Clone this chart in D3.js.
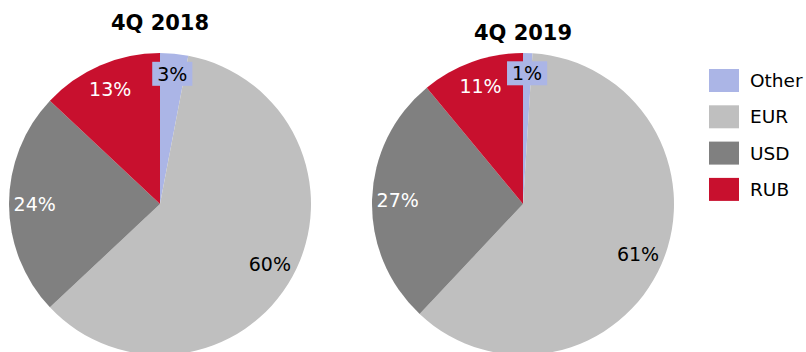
<!DOCTYPE html>
<html>
<head>
<meta charset="utf-8">
<script src="https://cdn.jsdelivr.net/npm/d3@7"></script>
<style>
  html, body { margin: 0; padding: 0; background: #fff; }
  svg { display: block; }
</style>
</head>
<body>
<svg id="chart" width="806" height="352"></svg>
<script>
// Currency mix by quarter (shares in %)
const categories = ["Other", "EUR", "USD", "RUB"];
const periods = ["4Q 2018", "4Q 2019"];
const values2018 = [3, 60, 24, 13];
const values2019 = [1, 61, 27, 11];
const colors = ["#abb5e6", "#bfbfbf", "#808080", "#c8102e"];
const labelColors = ["#000", "#000", "#fff", "#fff"];

const svg = d3.select("#chart");
const font = "'DejaVu Sans', Verdana, sans-serif";

const pies = [
  { title: periods[0], values: values2018, cx: 160, cy: 204, r: 151, titleY: 30 },
  { title: periods[1], values: values2019, cx: 523, cy: 204, r: 151, titleY: 40 }
];

const color = d3.scaleOrdinal().domain(categories).range(colors);
const textColor = d3.scaleOrdinal().domain(categories).range(labelColors);

const pieGen = d3.pie().sort(null).value(d => d.value);

pies.forEach(p => {
  const data = categories.map((c, i) => ({ cat: c, value: p.values[i] }));
  const arcs = pieGen(data);
  const arc = d3.arc().innerRadius(0).outerRadius(p.r);
  const g = svg.append("g").attr("transform", `translate(${p.cx},${p.cy})`);

  g.selectAll("path.slice")
    .data(arcs)
    .join("path")
    .attr("class", "slice")
    .attr("d", arc)
    .attr("fill", d => color(d.data.cat));

  // labels: thin slices get their label pushed outward, with a filled box
  const labels = g.selectAll("g.lbl")
    .data(arcs)
    .join("g")
    .attr("class", "lbl")
    .attr("transform", d => {
      const small = d.data.value < 5;
      const lr = small ? p.r * 0.865 : p.r * 0.83;
      const a = (d.startAngle + d.endAngle) / 2;
      return `translate(${Math.sin(a) * lr},${-Math.cos(a) * lr})`;
    });

  labels.each(function(d) {
    const sel = d3.select(this);
    const t = sel.append("text")
      .attr("text-anchor", "middle")
      .attr("dy", "0.36em")
      .attr("font-family", font)
      .attr("font-size", 19)
      .attr("fill", textColor(d.data.cat))
      .text(d.data.value + "%");
    if (d.data.value < 5) {
      const bb = t.node().getBBox();
      sel.insert("rect", "text")
        .attr("x", bb.x - 5)
        .attr("y", bb.y - 1)
        .attr("width", bb.width + 10)
        .attr("height", bb.height + 2)
        .attr("fill", color(d.data.cat));
    }
  });

  svg.append("text")
    .attr("x", p.cx)
    .attr("y", p.titleY)
    .attr("text-anchor", "middle")
    .attr("font-family", font)
    .attr("font-weight", "bold")
    .attr("font-size", 21)
    .attr("fill", "#000")
    .text(p.title);
});

// legend
const legend = svg.append("g").attr("transform", "translate(709,69)");
const item = legend.selectAll("g")
  .data(categories)
  .join("g")
  .attr("transform", (d, i) => `translate(0,${i * 36.3})`);
item.append("rect")
  .attr("width", 30)
  .attr("height", 23)
  .attr("fill", d => color(d));
item.append("text")
  .attr("x", 41)
  .attr("y", 11.5)
  .attr("dy", "0.36em")
  .attr("font-family", font)
  .attr("font-size", 18.5)
  .attr("fill", "#000")
  .text(d => d);
</script>
</body>
</html>
